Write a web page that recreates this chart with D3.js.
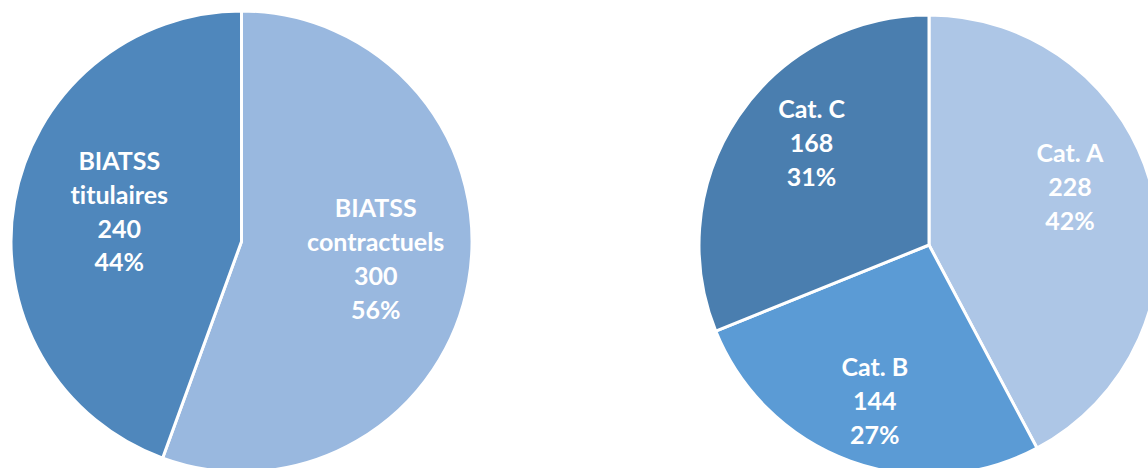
<!DOCTYPE html>
<html>
<head>
<meta charset="utf-8">
<script src="https://cdn.jsdelivr.net/npm/d3@7"></script>
<style>
  html, body { margin: 0; padding: 0; background: #ffffff; }
  svg { display: block; }
  text {
    font-family: "Lato", "Open Sans", sans-serif;
    font-weight: 700;
    fill: #ffffff;
    font-variant-ligatures: none;
    font-feature-settings: "liga" 0, "clig" 0;
  }
</style>
</head>
<body>
<svg id="chart" width="1148" height="468"></svg>
<script>
// Répartition des personnels BIATSS par statut
const statutLabels = [["BIATSS", "contractuels"], ["BIATSS", "titulaires"]];
const statutValues = [300, 240];
const statutColors = ["#99b8df", "#4f87bc"];

// Répartition des personnels par catégorie
const categorieLabels = [["Cat. A"], ["Cat. B"], ["Cat. C"]];
const categorieValues = [228, 144, 168];
const categorieColors = ["#adc6e6", "#5b9bd5", "#4a7eaf"];

const svg = d3.select("#chart");

function drawPie(cfg) {
  const g = svg.append("g").attr("transform", `translate(${cfg.cx},${cfg.cy})`);
  const total = d3.sum(cfg.values);
  const pie = d3.pie().sort(null).value(d => d)(cfg.values);
  const arc = d3.arc().innerRadius(0).outerRadius(cfg.r);
  const labelArc = d3.arc().innerRadius(cfg.r * 0.6).outerRadius(cfg.r * 0.6);

  g.selectAll("path.slice")
    .data(pie)
    .join("path")
    .attr("class", "slice")
    .attr("d", arc)
    .attr("fill", (d, i) => cfg.colors[i])
    .attr("stroke", "#ffffff")
    .attr("stroke-width", 3)
    .attr("stroke-linejoin", "round");

  const lineH = 34;
  pie.forEach((d, i) => {
    const [cx, cy] = labelArc.centroid(d);
    const x = cx + cfg.nudge[i][0];
    const y = cy + cfg.nudge[i][1];
    const lines = cfg.labels[i].concat([String(d.data), Math.round(d.data / total * 100) + "%"]);
    const t = g.append("text")
      .attr("text-anchor", "middle")
      .attr("font-size", 25);
    lines.forEach((s, k) => {
      t.append("tspan")
        .attr("x", x)
        .attr("y", y + (k - (lines.length - 1) / 2) * lineH)
        .attr("dy", "0.36em")
        .text(s);
    });
  });
}

drawPie({
  cx: 241.5, cy: 241.5, r: 230.5,
  values: statutValues, labels: statutLabels, colors: statutColors,
  nudge: [[-2, -7], [14, -6]]
});

drawPie({
  cx: 929, cy: 245, r: 230,
  values: categorieValues, labels: categorieLabels, colors: categorieColors,
  nudge: [[7, -25], [-7, 26], [-3, -25]]
});
</script>
</body>
</html>
